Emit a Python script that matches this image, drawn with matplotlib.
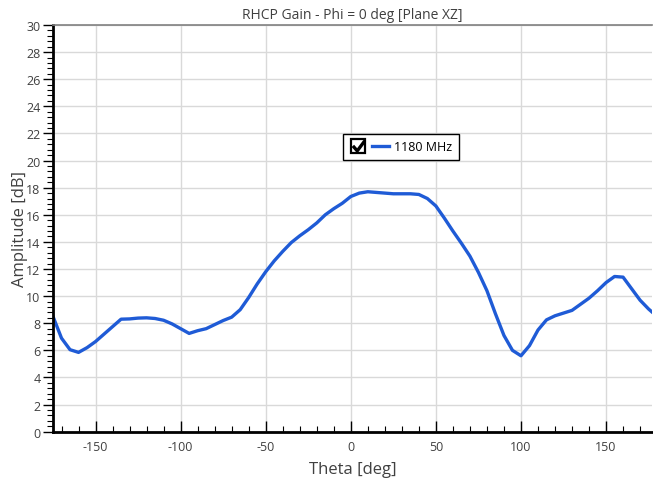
import matplotlib
matplotlib.use('Agg')
import matplotlib.pyplot as plt
from matplotlib.ticker import MultipleLocator
from matplotlib.lines import Line2D
from matplotlib.path import Path
from matplotlib.legend_handler import HandlerTuple

plt.rcParams['font.family'] = ['Open Sans', 'DejaVu Sans']
plt.rcParams['axes.unicode_minus'] = False

# ---------- dados ----------
theta = list(range(-180, 185, 5))
ganho = [9.2, 8.5, 6.9, 6.05, 5.85, 6.2, 6.65, 7.2, 7.75, 8.3,
         8.32, 8.38, 8.4, 8.35, 8.22, 7.95, 7.6, 7.25, 7.45, 7.6,
         7.9, 8.2, 8.45, 9.0, 9.9, 10.9, 11.8, 12.6, 13.3, 13.95,
         14.45, 14.9, 15.4, 16.0, 16.45, 16.85, 17.35, 17.6, 17.7, 17.65,
         17.6, 17.55, 17.55, 17.55, 17.5, 17.2, 16.65, 15.75, 14.8, 13.9,
         12.95, 11.75, 10.4, 8.7, 7.1, 6.0, 5.6, 6.35, 7.5, 8.25,
         8.55, 8.75, 8.95, 9.4, 9.85, 10.4, 11.0, 11.45, 11.4, 10.55,
         9.7, 9.05, 8.5]
rotulo = '1180 MHz'
titulo = 'RHCP Gain - Phi = 0 deg [Plane XZ]'

fig = plt.figure(figsize=(6.53, 4.85), dpi=100)
ax = fig.add_axes([53 / 653, 1 - 432.7 / 485, 599 / 653, (432.7 - 26) / 485])

cor = '#1f5bd6'
linha, = ax.plot(theta, ganho, color=cor, lw=2.4, solid_joinstyle='round')

ax.set_xlim(-175, 177)
ax.set_ylim(0, 30)
ax.xaxis.set_major_locator(MultipleLocator(50))
ax.xaxis.set_minor_locator(MultipleLocator(10))
ax.yaxis.set_major_locator(MultipleLocator(2))
ax.yaxis.set_minor_locator(MultipleLocator(0.4))

ax.grid(True, which='major', color='#d9d9d9', lw=1)
ax.set_axisbelow(True)

ax.spines['right'].set_visible(False)
ax.spines['top'].set_color('#808080')
ax.spines['top'].set_linewidth(1.2)
ax.spines['left'].set_color('black')
ax.spines['left'].set_linewidth(2)
ax.spines['bottom'].set_color('black')
ax.spines['bottom'].set_linewidth(2)

ax.tick_params(axis='y', which='major', direction='out', length=7, width=1,
               labelsize=9, labelcolor='#404040', pad=2)
ax.tick_params(axis='y', which='minor', direction='out', length=4, width=0.8)
ax.tick_params(axis='x', which='major', direction='in', length=8, width=1,
               labelsize=9, labelcolor='#404040', pad=6)
ax.tick_params(axis='x', which='minor', direction='in', length=4, width=0.8)

ax.set_xlabel('Theta [deg]', fontsize=12, color='#404040', labelpad=6)
ax.set_ylabel('Amplitude [dB]', fontsize=12, color='#404040', labelpad=-1)
ax.set_title(titulo, fontsize=10, color='#404040', pad=5)

# ---------- legenda com a caixinha marcada ----------
caixa = Line2D([], [], ls='', marker='s', markersize=10, mfc='white', mec='black', mew=1.6)
check = Path([(-0.45, 0.05), (-0.1, -0.35), (0.5, 0.45)],
             [Path.MOVETO, Path.LINETO, Path.LINETO])
marca = Line2D([], [], ls='', marker=check, markersize=9, mfc='none', mec='black', mew=2.4)
traco = Line2D([], [], color=cor, lw=2.4)
alca = ((caixa, marca), traco)

leg = ax.legend([alca], [rotulo],
                handler_map={alca: HandlerTuple(ndivide=None, pad=0.5)},
                loc='upper left',
                bbox_to_anchor=((343 - 53) / 599, 1 - (135 - 26) / 406.7),
                fontsize=9, frameon=True, fancybox=False, edgecolor='black',
                handlelength=3.2, borderpad=0.5, handletextpad=0.4,
                borderaxespad=0)
leg.get_frame().set_linewidth(1)
leg.get_frame().set_alpha(1)

fig.savefig('out.png', dpi=100)
